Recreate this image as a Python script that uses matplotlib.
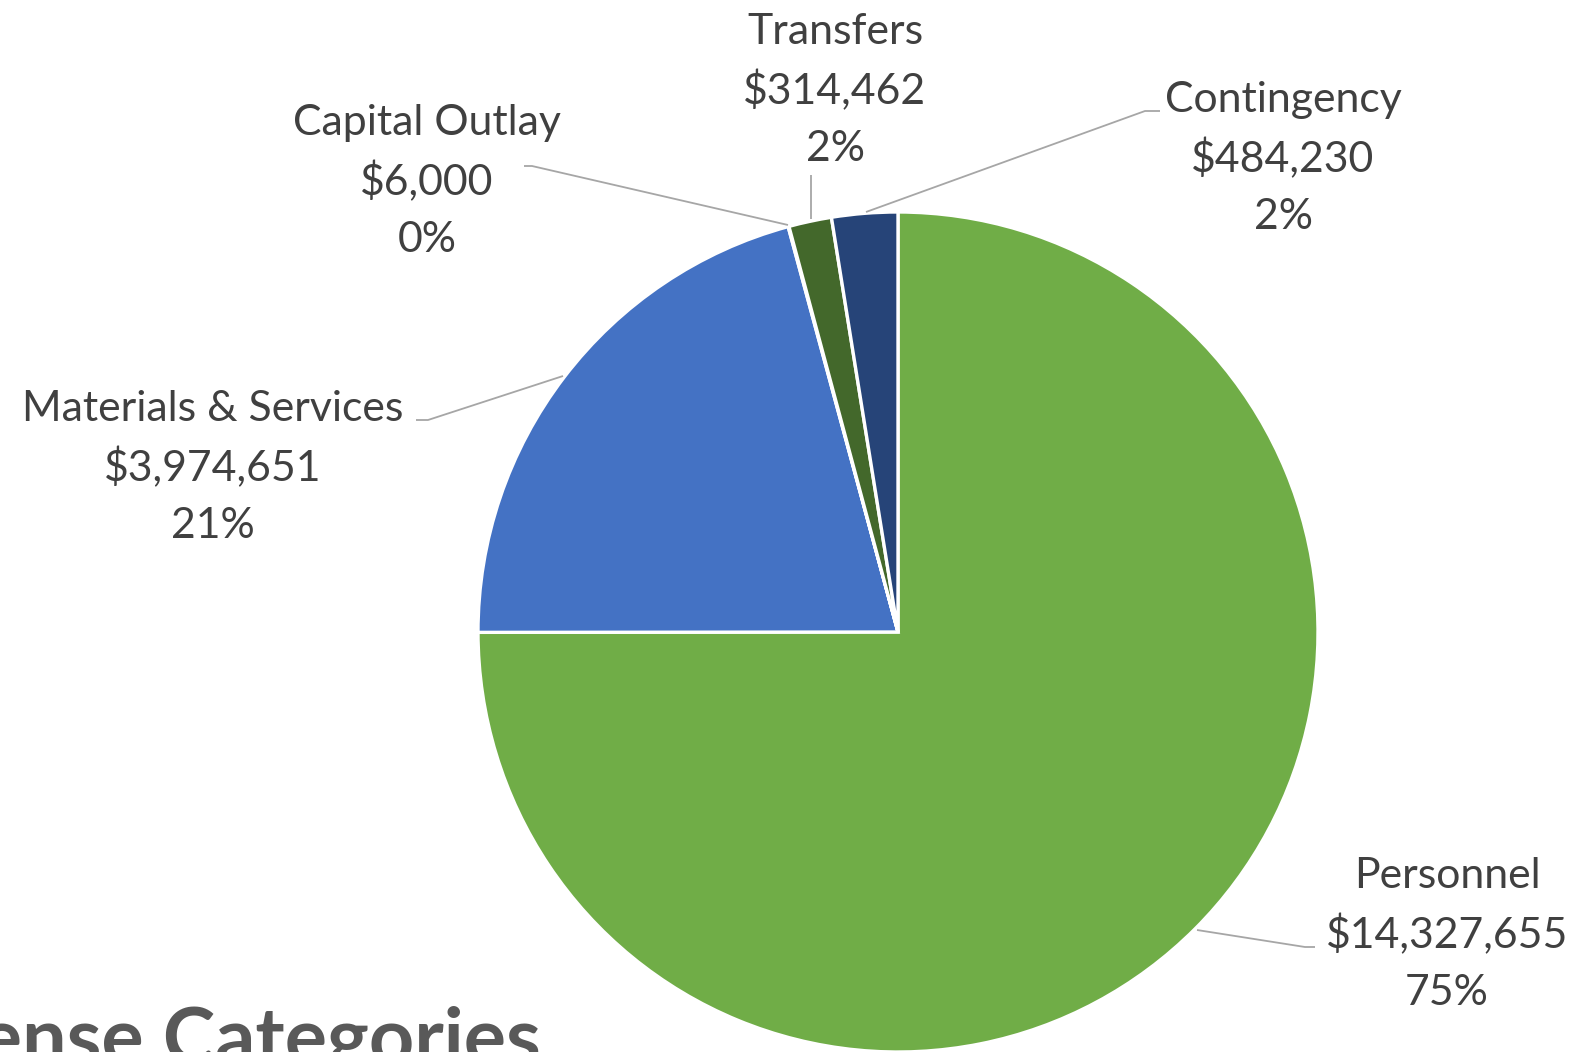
import numpy as np
import matplotlib.pyplot as plt

# expense categories, in the order they are drawn (clockwise from 12 o'clock)
categories = ["Personnel", "Materials & Services", "Capital Outlay", "Transfers", "Contingency"]
amounts = [14327655, 3974651, 6000, 314462, 484230]
pct_labels = ["75%", "21%", "0%", "2%", "2%"]
colors = ["#70AD47", "#4472C4", "#636363", "#43682B", "#264478"]

W, H = 1581, 1052
fig = plt.figure(figsize=(W / 100, H / 100), dpi=100)
ax = fig.add_axes([0, 0, 1, 1])

# pixel coords, y going down -> start at -90 and go "counterclockwise" = clockwise on screen
cx, cy, r = 898, 632, 420
ax.pie(amounts, colors=colors, startangle=-90, counterclock=True,
       center=(cx, cy), radius=r,
       wedgeprops=dict(edgecolor="white", linewidth=2.4))
ax.set_xlim(0, W)
ax.set_ylim(H, 0)
ax.set_aspect("equal")
ax.axis("off")

txt_kw = dict(family="Lato", fontsize=30.8, color="#404040", ha="center", va="center")
# label block centres (x, first line y) in pixels
label_pos = {
    "Personnel": (1447, 876),
    "Materials & Services": (213, 409),
    "Capital Outlay": (427, 123),
    "Transfers": (835, 32),
    "Contingency": (1283, 100),
}
step = 58.5
for name, amt, pct in zip(categories, amounts, pct_labels):
    x, y = label_pos[name]
    ax.text(x, y, name, **txt_kw)
    ax.text(x, y + step, f"${amt:,}", **txt_kw)
    ax.text(x, y + 2 * step, pct, **txt_kw)

# leader lines
leaders = [
    [(1197, 930), (1305, 947), (1315, 947)],
    [(416, 420), (428, 420), (563, 376)],
    [(524, 166), (532, 166), (788, 225)],
    [(811, 175), (811, 219)],
    [(1160, 111), (1145, 111), (866, 212)],
]
for pts in leaders:
    pts = np.array(pts)
    ax.plot(pts[:, 0], pts[:, 1], color="#A6A6A6", lw=1.3, solid_capstyle="butt")

# title, mostly cut off at the bottom-left (as in the source image)
ax.text(541, 1064, "Expense Categories", family="Lato", fontweight="bold",
        fontsize=57, color="#595959", ha="right", va="baseline")

fig.savefig("out.png", dpi=100)
